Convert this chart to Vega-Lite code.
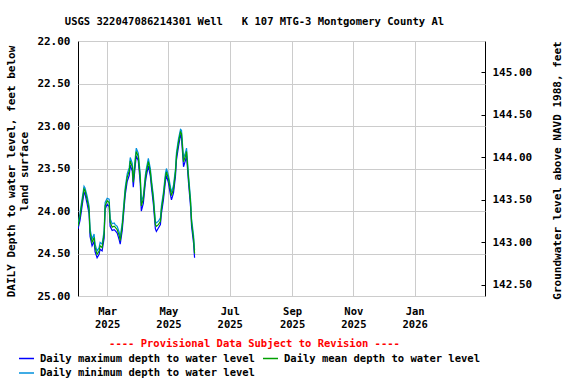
{
  "$schema": "https://vega.github.io/schema/vega-lite/v6.json",
  "width": 407,
  "height": 255,
  "autosize": {"type": "none"},
  "padding": {"left": 78, "top": 41, "right": 91, "bottom": 88},
  "background": "#ffffff",
  "config": {
    "font": "DejaVu Sans Mono",
    "view": {"stroke": "#000000", "strokeWidth": 1},
    "axis": {
      "labelFont": "DejaVu Sans Mono",
      "labelFontWeight": "bold",
      "labelFontSize": 11,
      "labelColor": "#000000",
      "titleFont": "DejaVu Sans Mono",
      "titleFontWeight": "bold",
      "titleFontSize": 11,
      "titleColor": "#000000",
      "gridColor": "#cccccc",
      "gridWidth": 1,
      "domain": false
    }
  },
  "title": {
    "text": "USGS 322047086214301 Well \u00a0\u00a0K 107 MTG-3 Montgomery County Al",
    "font": "DejaVu Sans Mono",
    "fontSize": 10.5,
    "fontWeight": "bold",
    "color": "#000000",
    "frame": "group",
    "anchor": "middle",
    "dx": -27,
    "dy": 17,
    "offset": 17,
    "baseline": "alphabetic"
  },
  "data": {
    "values": [
      {"date": "2025-01-31T00:00", "max": 24.21, "mean": 24.18, "min": 24.15},
      {"date": "2025-02-02T00:00", "max": 24.11, "mean": 24.07, "min": 24.03},
      {"date": "2025-02-03T00:00", "max": 24.03, "mean": 23.98, "min": 23.94},
      {"date": "2025-02-06T00:00", "max": 23.78, "mean": 23.74, "min": 23.71},
      {"date": "2025-02-07T00:00", "max": 23.80, "mean": 23.76, "min": 23.73},
      {"date": "2025-02-09T00:00", "max": 23.91, "mean": 23.86, "min": 23.82},
      {"date": "2025-02-11T00:00", "max": 24.03, "mean": 23.98, "min": 23.94},
      {"date": "2025-02-12T00:00", "max": 24.30, "mean": 24.25, "min": 24.21},
      {"date": "2025-02-14T00:00", "max": 24.41, "mean": 24.37, "min": 24.33},
      {"date": "2025-02-16T00:00", "max": 24.36, "mean": 24.31, "min": 24.27},
      {"date": "2025-02-17T00:00", "max": 24.48, "mean": 24.43, "min": 24.39},
      {"date": "2025-02-19T00:00", "max": 24.55, "mean": 24.51, "min": 24.47},
      {"date": "2025-02-21T00:00", "max": 24.51, "mean": 24.47, "min": 24.43},
      {"date": "2025-02-22T00:00", "max": 24.45, "mean": 24.41, "min": 24.37},
      {"date": "2025-02-24T00:00", "max": 24.47, "mean": 24.43, "min": 24.39},
      {"date": "2025-02-26T00:00", "max": 24.32, "mean": 24.27, "min": 24.23},
      {"date": "2025-02-27T00:00", "max": 23.98, "mean": 23.94, "min": 23.90},
      {"date": "2025-03-01T00:00", "max": 23.92, "mean": 23.88, "min": 23.85},
      {"date": "2025-03-03T00:00", "max": 23.95, "mean": 23.90, "min": 23.86},
      {"date": "2025-03-04T00:00", "max": 24.18, "mean": 24.13, "min": 24.09},
      {"date": "2025-03-06T00:00", "max": 24.23, "mean": 24.19, "min": 24.15},
      {"date": "2025-03-08T00:00", "max": 24.22, "mean": 24.18, "min": 24.14},
      {"date": "2025-03-09T00:00", "max": 24.23, "mean": 24.19, "min": 24.16},
      {"date": "2025-03-11T00:00", "max": 24.26, "mean": 24.22, "min": 24.18},
      {"date": "2025-03-13T00:00", "max": 24.34, "mean": 24.29, "min": 24.25},
      {"date": "2025-03-14T00:00", "max": 24.39, "mean": 24.35, "min": 24.31},
      {"date": "2025-03-16T00:00", "max": 24.23, "mean": 24.18, "min": 24.14},
      {"date": "2025-03-18T00:00", "max": 23.95, "mean": 23.90, "min": 23.86},
      {"date": "2025-03-19T00:00", "max": 23.81, "mean": 23.76, "min": 23.72},
      {"date": "2025-03-21T00:00", "max": 23.65, "mean": 23.60, "min": 23.56},
      {"date": "2025-03-23T00:00", "max": 23.58, "mean": 23.53, "min": 23.49},
      {"date": "2025-03-24T00:00", "max": 23.46, "mean": 23.41, "min": 23.37},
      {"date": "2025-03-26T00:00", "max": 23.53, "mean": 23.48, "min": 23.44},
      {"date": "2025-03-27T00:00", "max": 23.72, "mean": 23.66, "min": 23.62},
      {"date": "2025-03-29T00:00", "max": 23.46, "mean": 23.41, "min": 23.37},
      {"date": "2025-03-30T00:00", "max": 23.35, "mean": 23.30, "min": 23.26},
      {"date": "2025-04-01T00:00", "max": 23.41, "mean": 23.36, "min": 23.32},
      {"date": "2025-04-03T00:00", "max": 23.68, "mean": 23.62, "min": 23.58},
      {"date": "2025-04-04T00:00", "max": 24.00, "mean": 23.94, "min": 23.90},
      {"date": "2025-04-06T00:00", "max": 23.91, "mean": 23.86, "min": 23.82},
      {"date": "2025-04-08T00:00", "max": 23.67, "mean": 23.62, "min": 23.58},
      {"date": "2025-04-09T00:00", "max": 23.59, "mean": 23.54, "min": 23.50},
      {"date": "2025-04-11T00:00", "max": 23.47, "mean": 23.42, "min": 23.38},
      {"date": "2025-04-13T00:00", "max": 23.59, "mean": 23.54, "min": 23.50},
      {"date": "2025-04-14T00:00", "max": 23.71, "mean": 23.66, "min": 23.62},
      {"date": "2025-04-16T00:00", "max": 23.92, "mean": 23.86, "min": 23.82},
      {"date": "2025-04-18T00:00", "max": 24.21, "mean": 24.16, "min": 24.12},
      {"date": "2025-04-19T00:00", "max": 24.24, "mean": 24.18, "min": 24.14},
      {"date": "2025-04-21T00:00", "max": 24.20, "mean": 24.16, "min": 24.12},
      {"date": "2025-04-23T00:00", "max": 24.16, "mean": 24.12, "min": 24.08},
      {"date": "2025-04-24T00:00", "max": 24.03, "mean": 23.98, "min": 23.94},
      {"date": "2025-04-26T00:00", "max": 23.87, "mean": 23.82, "min": 23.78},
      {"date": "2025-04-28T00:00", "max": 23.65, "mean": 23.60, "min": 23.56},
      {"date": "2025-04-29T00:00", "max": 23.58, "mean": 23.54, "min": 23.50},
      {"date": "2025-05-01T00:00", "max": 23.67, "mean": 23.62, "min": 23.58},
      {"date": "2025-05-03T00:00", "max": 23.81, "mean": 23.76, "min": 23.72},
      {"date": "2025-05-04T00:00", "max": 23.87, "mean": 23.82, "min": 23.78},
      {"date": "2025-05-06T00:00", "max": 23.79, "mean": 23.74, "min": 23.70},
      {"date": "2025-05-08T00:00", "max": 23.59, "mean": 23.54, "min": 23.50},
      {"date": "2025-05-09T00:00", "max": 23.40, "mean": 23.35, "min": 23.31},
      {"date": "2025-05-11T00:00", "max": 23.24, "mean": 23.19, "min": 23.15},
      {"date": "2025-05-13T00:00", "max": 23.11, "mean": 23.07, "min": 23.04},
      {"date": "2025-05-14T00:00", "max": 23.14, "mean": 23.09, "min": 23.05},
      {"date": "2025-05-16T00:00", "max": 23.48, "mean": 23.42, "min": 23.38},
      {"date": "2025-05-18T00:00", "max": 23.40, "mean": 23.35, "min": 23.31},
      {"date": "2025-05-19T00:00", "max": 23.35, "mean": 23.30, "min": 23.26},
      {"date": "2025-05-21T00:00", "max": 23.67, "mean": 23.62, "min": 23.58},
      {"date": "2025-05-23T00:00", "max": 23.95, "mean": 23.90, "min": 23.86},
      {"date": "2025-05-24T00:00", "max": 24.18, "mean": 24.13, "min": 24.09},
      {"date": "2025-05-26T00:00", "max": 24.38, "mean": 24.33, "min": 24.29},
      {"date": "2025-05-27T00:00", "max": 24.55, "mean": 24.50, "min": 24.46}
    ]
  },
  "layer": [
    {
      "transform": [{"fold": ["max", "min", "mean"], "as": ["series", "value"]}],
      "mark": {"type": "line", "strokeWidth": 1.2, "clip": true},
      "encoding": {
        "x": {
          "field": "date",
          "type": "temporal",
          "scale": {"domain": [{"year": 2025, "month": 1, "date": 31}, {"year": 2026, "month": 3, "date": 12}]},
          "axis": {
            "values": [
              {"year": 2025, "month": 3, "date": 1},
              {"year": 2025, "month": 5, "date": 1},
              {"year": 2025, "month": 7, "date": 1},
              {"year": 2025, "month": 9, "date": 1},
              {"year": 2025, "month": 11, "date": 1},
              {"year": 2026, "month": 1, "date": 1}
            ],
            "labelExpr": "[timeFormat(datum.value, '%b'), timeFormat(datum.value, '%Y')]",
            "labelLineHeight": 13,
            "labelFontSize": 10.5,
            "labelPadding": 10,
            "ticks": false,
            "grid": true,
            "title": "---- Provisional Data Subject to Revision ----",
            "titleColor": "#ff0000",
            "titleFontSize": 10.5,
            "titleX": 176,
            "titleAlign": "center",
            "titlePadding": 9
          }
        },
        "y": {
          "field": "value",
          "type": "quantitative",
          "scale": {"domain": [22, 25], "reverse": true, "nice": false, "zero": false},
          "axis": {
            "values": [22, 22.5, 23, 23.5, 24, 24.5, 25],
            "format": ".2f",
            "ticks": false,
            "labelPadding": 8,
            "grid": true,
            "title": ["DAILY Depth to water level, feet below", "land surface"],
            "titleAngle": -90,
            "titleX": -67,
            "titleY": 130,
            "titleAlign": "center",
            "titleBaseline": "middle",
            "titleLineHeight": 13
          }
        },
        "color": {
          "field": "series",
          "type": "nominal",
          "scale": {"domain": ["max", "mean", "min"], "range": ["#0000ff", "#00a000", "#0090dd"]},
          "legend": {
            "orient": "none",
            "legendX": -60,
            "legendY": 309,
            "direction": "horizontal",
            "columns": 2,
            "columnPadding": 5,
            "rowPadding": 0.5,
            "title": null,
            "symbolType": "stroke",
            "symbolSize": 225,
            "symbolStrokeWidth": 1.5,
            "labelFont": "DejaVu Sans Mono",
            "labelFontWeight": "bold",
            "labelFontSize": 10.5,
            "labelColor": "#000000",
            "labelOffset": 5,
            "labelLimit": 400,
            "labelExpr": "datum.label == 'max' ? 'Daily maximum depth to water level' : datum.label == 'mean' ? 'Daily mean depth to water level' : 'Daily minimum depth to water level'"
          }
        }
      }
    },
    {
      "data": {"values": [{"elev": 144}]},
      "mark": {"type": "rule", "strokeOpacity": 0},
      "encoding": {
        "y": {
          "field": "elev",
          "type": "quantitative",
          "scale": {"domain": [142.37, 145.37], "nice": false, "zero": false},
          "axis": {
            "orient": "right",
            "values": [142.5, 143, 143.5, 144, 144.5, 145],
            "format": ".2f",
            "grid": false,
            "ticks": true,
            "tickSize": -4,
            "tickColor": "#000000",
            "labelPadding": 11,
            "title": "Groundwater level above NAVD 1988, feet",
            "titleAngle": -90,
            "titleX": 72,
            "titleY": 129,
            "titleAlign": "center",
            "titleBaseline": "middle"
          }
        }
      }
    }
  ],
  "resolve": {"scale": {"y": "independent"}, "axis": {"y": "independent"}}
}
